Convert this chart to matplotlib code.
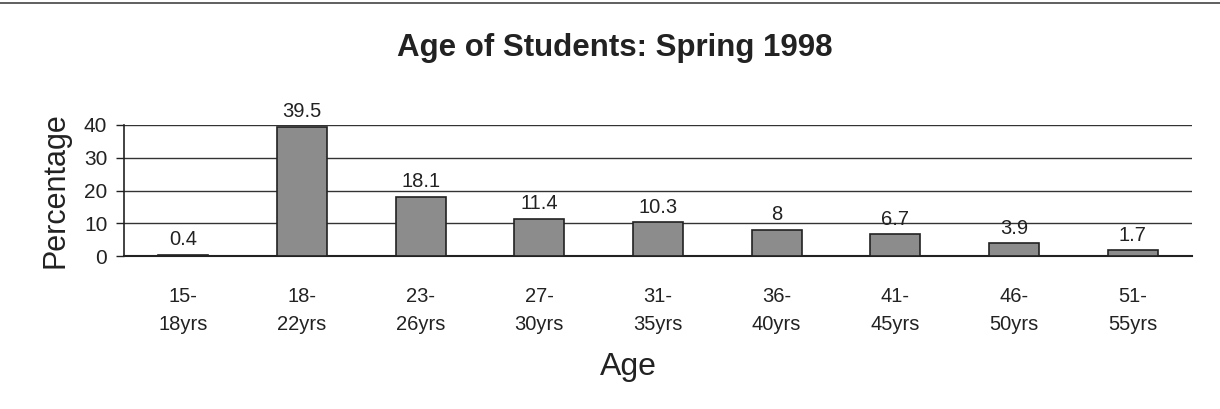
import numpy as np
from matplotlib import pyplot as plt
from matplotlib.lines import Line2D

plt.rcParams['font.family'] = ['Liberation Sans', 'DejaVu Sans']

# data
age_groups = ['15-\n18yrs', '18-\n22yrs', '23-\n26yrs', '27-\n30yrs', '31-\n35yrs',
              '36-\n40yrs', '41-\n45yrs', '46-\n50yrs', '51-\n55yrs']
percent = [0.4, 39.5, 18.1, 11.4, 10.3, 8, 6.7, 3.9, 1.7]
value_labels = ['0.4', '39.5', '18.1', '11.4', '10.3', '8', '6.7', '3.9', '1.7']
y_ticks = [0, 10, 20, 30, 40]

fig = plt.figure(figsize=(12.2, 4.09), dpi=100)
ax = fig.add_axes([124 / 1220, 1 - 256 / 409, (1192 - 124) / 1220, (256 - 125) / 409])

x = np.arange(len(percent))
bars = ax.bar(x, percent, width=0.42, color='#8c8c8c', edgecolor='#222222', linewidth=1.2, zorder=3)
for b, lab in zip(bars, value_labels):
    ax.annotate(lab, (b.get_x() + b.get_width() / 2, b.get_height()),
                xytext=(0, 4), textcoords='offset points', ha='center', va='bottom',
                fontsize=14.5, color='#222222')

ax.set_xlim(-0.5, len(percent) - 0.5)
ax.set_ylim(0, 40)
ax.set_yticks(y_ticks)
ax.set_xticks(x)
ax.set_xticklabels(age_groups, fontsize=14.5, color='#222222', linespacing=1.6)
ax.tick_params(axis='x', length=0, pad=22)
ax.tick_params(axis='y', length=6, width=1, labelsize=15, pad=6, colors='#222222')
ax.grid(axis='y', color='#333333', linewidth=1, zorder=0)
for s in ['top', 'right']:
    ax.spines[s].set_visible(False)
ax.spines['left'].set_linewidth(1.2)
ax.spines['bottom'].set_linewidth(1.5)
ax.spines['left'].set_color('#222222')
ax.spines['bottom'].set_color('#222222')

ax.set_ylabel('Percentage', fontsize=22, color='#222222', labelpad=10)
ax.set_xlabel('Age', fontsize=23, color='#222222')
ax.xaxis.set_label_coords((628 - 124) / 1068, -(352 - 256) / 131)
fig.text(615 / 1220, 1 - 48 / 409, 'Age of Students: Spring 1998', ha='center', va='center',
         fontsize=22.5, fontweight='bold', color='#222222')

# page rule from the scanned document
fig.add_artist(Line2D([0, 1], [1 - 3 / 409, 1 - 3 / 409], color='#444444', linewidth=1.2))

fig.savefig('out.png', dpi=100)
